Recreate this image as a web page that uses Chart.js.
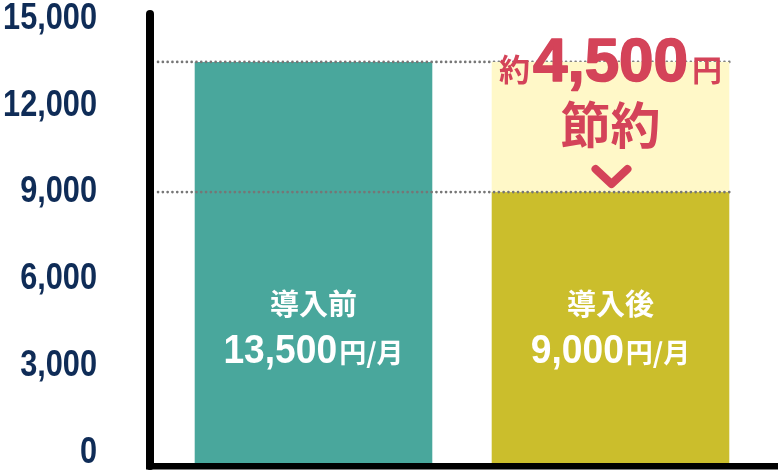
<!DOCTYPE html>
<html>
<head>
<meta charset="utf-8">
<script src="https://cdn.jsdelivr.net/npm/chart.js@4.4.1/dist/chart.umd.min.js"></script>
<style>
  html, body { margin: 0; padding: 0; background: #fff; }
</style>
</head>
<body>
<canvas id="costChart" width="778" height="474"></canvas>
<script>
// Data
const categories = ['導入前', '導入後'];
const monthlyCost = [13500, 9000];
const tickValues = [0, 3000, 6000, 9000, 12000, 15000];
const axisMin = -363;
const axisMax = 15121;
const unitLabel = '円/月';
const savingPrefix = '約';
const savingSuffix = '円';
const savingWord = '節約';

const barColors = ['#49a79c', '#cbbe2c'];
const numFont = '"Liberation Sans", Arial, sans-serif';
const jpFont = '"Noto Sans CJK JP", sans-serif';

const fmt = v => v.toLocaleString('en-US');

function dottedLine(ctx, x1, x2, y) {
    ctx.save();
    ctx.strokeStyle = '#767676';
    ctx.lineWidth = 2.6;
    ctx.lineCap = 'round';
    ctx.setLineDash([0.1, 4.7]);
    ctx.beginPath();
    ctx.moveTo(x1, y);
    ctx.lineTo(x2, y);
    ctx.stroke();
    ctx.restore();
}

// draw pieces of text side by side, centred on cx (sx = horizontal squeeze)
function drawRun(ctx, parts, cx, y) {
    let total = 0;
    parts.forEach(p => {
        ctx.font = p.font;
        p.sx = p.sx || 1;
        p.w = ctx.measureText(p.text).width * p.sx;
        total += p.w + (p.gap || 0);
    });
    let x = cx - total / 2;
    parts.forEach(p => {
        ctx.save();
        ctx.font = p.font;
        ctx.translate(x, y);
        ctx.scale(p.sx, 1);
        if (p.stroke) {
            ctx.lineWidth = p.stroke;
            ctx.lineJoin = 'round';
            ctx.strokeStyle = ctx.fillStyle;
            ctx.strokeText(p.text, 0, 0);
        }
        ctx.fillText(p.text, 0, 0);
        ctx.restore();
        x += p.w + (p.gap || 0);
    });
}

const overlayPlugin = {
    id: 'overlay',
    afterDatasetsDraw(chart) {
        const { ctx, chartArea, scales: { y } } = chart;
        const bars = chart.getDatasetMeta(0).data;
        const yBefore = y.getPixelForValue(monthlyCost[0]);
        const yAfter = y.getPixelForValue(monthlyCost[1]);
        const b2 = bars[1];
        const left2 = b2.x - b2.width / 2;
        const right2 = b2.x + b2.width / 2;
        const lineStart = chartArea.left - 7;

        dottedLine(ctx, lineStart, right2, yBefore);

        // savings highlight
        ctx.fillStyle = '#fff8c8';
        ctx.fillRect(left2, yBefore, b2.width, yAfter - yBefore);

        dottedLine(ctx, lineStart, right2, yAfter);

        // savings text
        ctx.save();
        ctx.fillStyle = '#d44359';
        ctx.textBaseline = 'alphabetic';
        ctx.textAlign = 'left';
        const diff = monthlyCost[0] - monthlyCost[1];
        drawRun(ctx, [
            { text: savingPrefix, font: 'bold 31px ' + jpFont, gap: 3 },
            { text: fmt(diff), font: 'bold 62px ' + numFont, gap: 4, stroke: 1.6 },
            { text: savingSuffix, font: 'bold 30px ' + jpFont }
        ], b2.x, 81);
        ctx.textAlign = 'center';
        ctx.textBaseline = 'middle';
        ctx.font = 'bold 50px ' + jpFont;
        ctx.fillText(savingWord, b2.x, 125);

        // chevron
        ctx.strokeStyle = '#d44359';
        ctx.lineWidth = 8;
        ctx.lineCap = 'round';
        ctx.lineJoin = 'round';
        ctx.beginPath();
        ctx.moveTo(b2.x - 15, 169);
        ctx.lineTo(b2.x + 1, 184);
        ctx.lineTo(b2.x + 17, 169);
        ctx.stroke();
        ctx.restore();

        // labels inside bars
        ctx.save();
        ctx.fillStyle = '#ffffff';
        bars.forEach((bar, i) => {
            ctx.textAlign = 'center';
            ctx.textBaseline = 'middle';
            ctx.font = 'bold 29px ' + jpFont;
            ctx.fillText(categories[i], bar.x, chartArea.bottom - 159);
            ctx.textAlign = 'left';
            ctx.textBaseline = 'alphabetic';
            drawRun(ctx, [
                { text: fmt(monthlyCost[i]), font: 'bold 40px ' + numFont, sx: 0.93, gap: 2 },
                { text: unitLabel, font: 'bold 27px ' + jpFont }
            ], bar.x, chartArea.bottom - 100);
        });
        ctx.restore();
    },
    afterDraw(chart) {
        const { ctx, chartArea, scales: { y } } = chart;
        const ax = chartArea.left - 15;
        ctx.save();
        ctx.strokeStyle = '#000';
        ctx.lineWidth = 8;
        ctx.lineCap = 'round';
        ctx.beginPath();
        ctx.moveTo(ax, 14);
        ctx.lineTo(ax, chartArea.bottom + 3);
        ctx.stroke();
        ctx.fillStyle = '#000';
        ctx.fillRect(ax - 4, chartArea.bottom, chart.width - ax + 4, 6.5);

        // condensed tick labels
        ctx.fillStyle = '#0f2c57';
        ctx.font = 'bold 37px ' + numFont;
        ctx.textAlign = 'right';
        ctx.textBaseline = 'middle';
        y.ticks.forEach(t => {
            ctx.save();
            ctx.translate(97, y.getPixelForValue(t.value));
            ctx.scale(0.83, 1);
            ctx.fillText(fmt(t.value), 0, 0);
            ctx.restore();
        });
        ctx.restore();
    }
};

const ctx = document.getElementById('costChart').getContext('2d');
const chart = new Chart(ctx, {
    type: 'bar',
    data: {
        labels: categories,
        datasets: [{
            data: monthlyCost,
            backgroundColor: barColors,
            borderWidth: 0,
            base: axisMin,
            barPercentage: 0.8,
            categoryPercentage: 1
        }]
    },
    options: {
        responsive: false,
        maintainAspectRatio: false,
        animation: false,
        layout: { padding: { top: 15, right: 19, bottom: 11, left: 0 } },
        scales: {
            x: { display: false },
            y: {
                min: axisMin,
                max: axisMax,
                afterBuildTicks: scale => { scale.ticks = tickValues.map(v => ({ value: v })); },
                afterFit: scale => { scale.width = 165; },
                grid: { display: false, drawTicks: false },
                border: { display: false },
                ticks: { display: false }
            }
        },
        plugins: {
            legend: { display: false },
            tooltip: { enabled: false }
        }
    },
    plugins: [overlayPlugin]
});
</script>
</body>
</html>
